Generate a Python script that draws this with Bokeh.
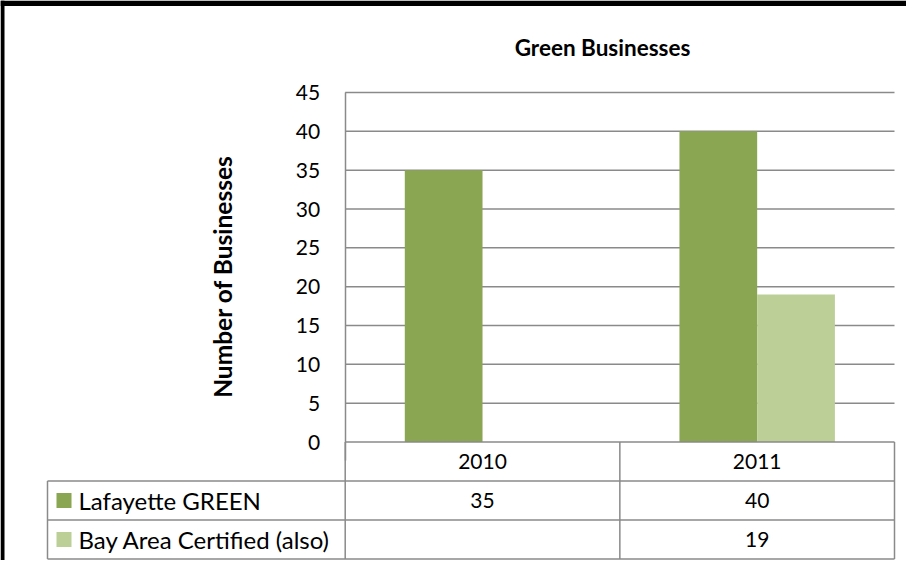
import numpy as np
from bokeh.plotting import figure
from bokeh.models import LinearAxis, FixedTicker, Range1d
from bokeh.core.properties import value
from bokeh.embed import file_html
from bokeh.resources import INLINE

# ---------------- data ----------------
years = ["2010", "2011"]
series_names = ["Lafayette GREEN", "Bay Area Certified (also)"]
lafayette_green = [35, 40]
bay_area_certified = [None, 19]
y_ticks = [0, 5, 10, 15, 20, 25, 30, 35, 40, 45]
title_text = "Green Businesses"
y_label = "Number of Businesses"
series_colors = ["#8AA652", "#BBCF97"]

# ---------------- layout ----------------
W, H = 906, 560
PAGE = 8
X0_PX = 352.7 - PAGE          # canvas x of category axis
PX_PER_CAT = 274.65
Y0_PX = 449.5 - PAGE          # canvas y of value 0
PX_PER_UNIT = 349.5 / 45.0

x_start = -X0_PX / PX_PER_CAT
x_end = (W - X0_PX) / PX_PER_CAT
y_end = Y0_PX / PX_PER_UNIT
y_start = -(H - Y0_PX) / PX_PER_UNIT


def px_x(page_x):
    return (page_x - PAGE - X0_PX) / PX_PER_CAT


def px_y(page_y):
    return (Y0_PX - (page_y - PAGE)) / PX_PER_UNIT


FONT = "Lato"
GRAY = "#8A8A8A"
n = len(years)
row_h = 39.0 / PX_PER_UNIT
table_left = px_x(55)

p = figure(width=W, height=H, x_range=Range1d(x_start, x_end),
           y_range=Range1d(y_start, y_end), x_axis_type=None, y_axis_type=None,
           output_backend="svg", toolbar_location=None, min_border=0,
           outline_line_color=None, background_fill_color="white",
           border_fill_color="white")

# black chart border (left and top edges of the chart box)
p.quad(left=[x_start, x_start], right=[px_x(12), x_end],
       bottom=[y_start, px_y(13.5)], top=[y_end, y_end],
       fill_color="black", line_color=None)

# gridlines
grid_y = y_ticks[1:]
p.segment(x0=[0] * len(grid_y), x1=[n] * len(grid_y), y0=grid_y, y1=grid_y,
          line_color=GRAY, line_width=1.5)

# bars
bar_w = 0.283
offsets = [-bar_w / 2, bar_w / 2]
for s, (vals, color) in enumerate(zip([lafayette_green, bay_area_certified], series_colors)):
    xs = [i + 0.5 + offsets[s] for i, v in enumerate(vals) if v is not None]
    tops = [v for v in vals if v is not None]
    p.vbar(x=xs, top=tops, bottom=0, width=bar_w, fill_color=color, line_color=None)

# data table lines
hy = [0, -row_h, -2 * row_h, -3 * row_h]
hx0 = [0, table_left, table_left, table_left]
p.segment(x0=hx0, x1=[n] * 4, y0=hy, y1=hy, line_color=GRAY, line_width=1.5)
vx = [table_left] + list(range(n + 1))
vy0 = [-row_h] + [0] * (n + 1)
p.segment(x0=vx, x1=vx, y0=vy0, y1=[-3 * row_h] * len(vx), line_color=GRAY, line_width=1.5)

# header row
cat_x = [i + 0.5 for i in range(n)]
p.text(x=cat_x, y=[-row_h / 2] * n, text=years, text_align="center",
       text_baseline="middle", text_font=value(FONT), text_font_size="21px",
       text_color="black")

# data rows
for r, (name, vals, color) in enumerate(zip(series_names, [lafayette_green, bay_area_certified], series_colors)):
    yc = -(r + 1.5) * row_h
    p.scatter(x=[px_x(71.5)], y=[yc], marker="square", size=15,
              fill_color=color, line_color=None)
    p.text(x=[px_x(86)], y=[yc], text=[name], text_align="left",
           text_baseline="middle", text_font=value(FONT), text_font_size="24px",
           text_color="black")
    vx_ = [cat_x[i] for i, v in enumerate(vals) if v is not None]
    vt = [str(v) for v in vals if v is not None]
    p.text(x=vx_, y=[yc] * len(vx_), text=vt, text_align="center",
           text_baseline="middle", text_font=value(FONT), text_font_size="21px",
           text_color="black")

# title
p.text(x=[px_x(610)], y=[px_y(55)], text=[title_text], text_align="center",
       text_baseline="middle", text_font=value(FONT), text_font_size="22.5px",
       text_font_style="bold", text_color="black")

# y axis
ax = LinearAxis(ticker=FixedTicker(ticks=y_ticks), fixed_location=0,
                bounds=(-2.38, 45), axis_label=y_label)
ax.axis_line_color = GRAY
ax.axis_line_width = 1.5
ax.major_tick_in = 0
ax.major_tick_out = 0
ax.minor_tick_line_color = None
ax.major_label_standoff = 25
ax.major_label_text_font = FONT
ax.major_label_text_font_size = "21px"
ax.major_label_text_color = "black"
ax.axis_label_text_font = FONT
ax.axis_label_text_font_size = "24.5px"
ax.axis_label_text_font_style = "bold"
ax.axis_label_text_color = "black"
ax.axis_label_standoff = 56
p.add_layout(ax, "left")

open("out.html", "w").write(file_html(p, INLINE))
